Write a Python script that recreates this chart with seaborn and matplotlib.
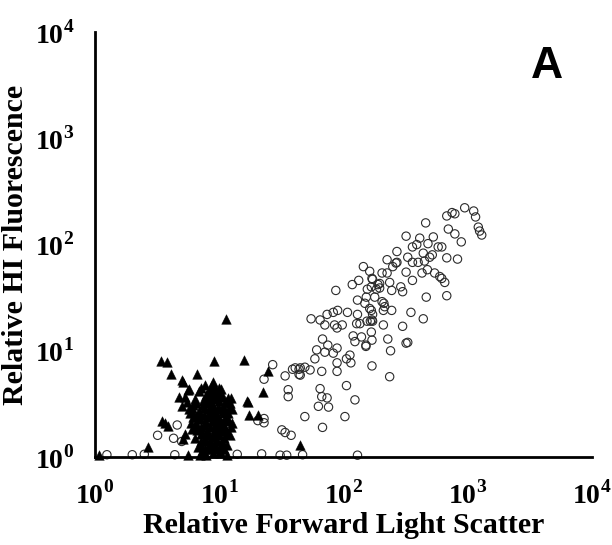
import seaborn as sns
import matplotlib.pyplot as plt
import pandas as pd

sns.set_style("white")
plt.rcParams['font.family'] = ['Liberation Serif', 'DejaVu Serif']
plt.rcParams['mathtext.fontset'] = 'custom'
plt.rcParams['mathtext.rm'] = 'Liberation Serif:bold'
plt.rcParams['mathtext.bf'] = 'Liberation Serif:bold'
plt.rcParams['text.color'] = 'black'
plt.rcParams['axes.labelcolor'] = 'black'

# open circles (forward scatter, HI fluorescence)
circle_x = [948, 1120, 1160, 680, 750, 790, 1220, 1250, 1300, 700, 790, 890, 460, 620, 680,
            830, 620, 655, 680, 320, 412, 530, 480, 580, 360, 390, 270, 440, 520, 330,
            225, 265, 400, 145, 250, 495, 450, 360, 270, 163, 205, 225, 320, 430, 475,
            360, 170, 196, 236, 133, 118, 156, 185, 245, 290, 300, 87, 153, 179, 130,
            149, 205, 215, 465, 350, 440, 597, 543, 168, 196, 168, 210, 245, 170, 210,
            300, 168, 170, 228, 330, 240, 170, 236, 172, 190, 320, 152, 165, 128, 212,
            55, 65, 71, 74, 83, 90, 108, 130, 163, 172, 155, 172, 136, 85, 98,
            89, 120, 140, 124, 152, 68, 75, 61, 71, 83, 89, 113, 106, 115, 59,
            89, 41, 45, 49, 54, 45, 34, 67, 89, 106, 36, 36, 65, 67, 74,
            63, 76, 124, 49, 103, 68, 32, 34, 38, 27, 23, 39, 44, 44, 23,
            20.5, 23, 3.2, 4.3, 5.0, 4.6,
            1.25, 2.0, 2.5, 4.4, 14, 22, 31, 35, 47, 130]
circle_y = [222, 207, 182, 186, 200, 195, 146, 134, 123, 140, 126, 106, 160, 95, 75,
            73, 48, 44, 33, 120, 115, 118, 102, 95, 95, 100, 86, 83, 80, 76,
            72, 67, 68, 62, 62, 76, 70, 68, 68, 56, 54, 54, 55, 54, 58,
            46, 48, 43, 44, 46, 42, 38, 38, 37, 40, 36, 37, 32, 32, 30,
            28, 29, 26, 32, 23, 20, 50, 54, 40, 39, 24, 24, 24, 19.5, 17.5,
            17, 15, 12.6, 12.9, 12, 10, 7.2, 5.7, 47, 42, 11.8, 11.3, 19, 18, 28,
            20, 19.5, 17.5, 22, 23, 24, 23, 22, 25, 22, 19, 19, 18, 17.5, 17.5,
            16.4, 13.8, 13.5, 12.2, 11, 12.9, 11.3, 10.2, 9.7, 9.5, 10.6, 9.1, 8.4, 7.7, 8.4,
            7.7, 6.9, 6.9, 7.0, 6.6, 5.9, 5.8, 6.4, 6.4, 4.7, 4.3, 3.7, 4.4, 3.7, 3.6,
            3.0, 2.95, 3.45, 2.4, 2.4, 1.9, 1.8, 1.7, 1.6, 7.4, 5.4, 6.7, 6.7, 6.0, 2.3,
            2.2, 2.1, 1.6, 1.5, 1.4, 2.0,
            1.05, 1.05, 1.06, 1.05, 1.06, 1.07, 1.04, 1.04, 1.05, 1.04]

# filled triangles
tri_x = [11.3, 3.4, 3.8, 4.1, 5.0, 5.7, 4.8, 6.7, 9.1, 15.8, 22.5, 16.7, 17.3, 20.5, 24.7,
         3.5, 3.9, 3.7, 5.3, 5.1, 11.7, 7.1, 2.7, 45, 7.7, 8.9, 9.2, 5.3, 6.4, 5.0,
         10.7, 12.4, 17, 5.6, 5.1,
         1.08, 5.6, 7.0, 7.9, 8.9, 10.1, 11.5,
         7.2, 8.1, 9.0, 10.2, 11.3, 6.5, 7.8, 8.6, 9.6, 10.8, 12.0, 6.9, 7.5, 8.3, 9.3,
         10.0, 11.0, 6.2, 7.0, 8.0, 8.8, 9.8, 10.6, 11.8, 6.7, 7.6, 8.4, 9.2, 10.3, 11.4,
         7.3, 8.2, 9.1, 9.9, 10.9, 6.4, 7.1, 7.9, 8.7, 9.5, 10.4, 11.6, 6.8, 7.7, 8.5,
         9.4, 10.1, 12.3, 7.4, 8.9, 9.7, 10.7, 6.6, 8.0, 9.0, 11.1, 7.0, 8.3, 9.6, 10.5,
         6.0, 7.6, 8.8, 10.0, 11.9, 7.2, 8.4, 9.3, 6.3, 12.6, 9.9, 8.1, 10.9, 7.5,
         5.8, 6.1, 6.5, 5.9, 6.2, 5.5, 5.7, 6.0, 6.4, 12.8, 12.2, 11.6, 12.5, 11.9,
         8.6, 9.4, 7.9, 10.4, 8.2, 9.0, 7.4, 10.8, 9.6, 8.5, 11.2, 7.8, 9.2, 10.3,
         8.0, 8.9, 9.8, 7.1, 10.6, 8.4, 9.5, 7.7, 11.0, 8.7, 6.9, 9.1, 10.0, 7.3]
tri_y = [20, 8.0, 7.9, 6.0, 5.3, 4.4, 3.7, 6.0, 8.0, 8.2, 4.1, 3.4, 2.5, 2.5, 6.4,
         2.2, 1.96, 2.1, 1.65, 1.48, 1.65, 1.3, 1.24, 1.3, 4.8, 5.1, 4.3, 3.7, 3.5, 3.0,
         3.7, 3.6, 3.3, 4.3, 5.1,
         1.05, 1.04, 1.05, 1.04, 1.08, 1.08, 1.05,
         4.5, 4.1, 4.4, 3.9, 3.3, 3.2, 3.6, 3.3, 3.5, 3.0, 2.9, 2.7, 2.9, 2.8, 2.6,
         2.9, 2.6, 2.4, 2.3, 2.4, 2.2, 2.4, 2.1, 2.3, 2.0, 2.0, 1.9, 2.0, 1.9, 1.8,
         1.7, 1.6, 1.7, 1.6, 1.5, 1.5, 1.4, 1.4, 1.3, 1.4, 1.3, 1.3, 1.25, 1.2, 1.2,
         1.2, 1.15, 1.6, 3.1, 3.0, 2.2, 2.0, 1.8, 1.8, 1.55, 2.3, 2.5, 2.5, 1.45, 1.75,
         2.7, 2.5, 2.75, 2.3, 2.6, 1.9, 1.35, 1.85, 1.9, 2.1, 3.4, 3.8, 1.95, 1.1,
         2.6, 2.9, 2.4, 2.1, 3.1, 3.3, 2.8, 1.85, 2.0, 2.8, 3.2, 2.2, 1.9, 3.6,
         3.9, 4.0, 3.8, 4.4, 3.2, 3.6, 3.4, 2.7, 2.8, 2.55, 2.3, 2.15, 2.25, 2.1,
         1.7, 1.55, 1.75, 1.65, 1.4, 1.3, 1.25, 1.5, 1.2, 4.8, 4.2, 4.7, 4.5, 1.15]

circles = pd.DataFrame({"fsc": circle_x, "hi": circle_y})
triangles = pd.DataFrame({"fsc": tri_x, "hi": tri_y})

fig = plt.figure(figsize=(6.12, 5.45), dpi=100)
ax = fig.add_axes([0.155, 0.1615, 0.812, 0.7795])

sns.scatterplot(data=circles, x="fsc", y="hi", marker="o", s=36, facecolor="none",
                edgecolor="#2b2b2b", linewidth=0.8, ax=ax, clip_on=False)
sns.scatterplot(data=triangles, x="fsc", y="hi", marker="^", s=48, color="black",
                edgecolor="black", linewidth=0.3, ax=ax, clip_on=False)

ax.set_xscale("log")
ax.set_yscale("log")
ax.set_xlim(1, 1e4)
ax.set_ylim(1, 1e4)

decades = [1, 10, 100, 1000, 10000]
labels = [r"$10^{%d}$" % i for i in range(5)]
ax.set_xticks(decades)
ax.set_xticklabels(labels)
ax.set_yticks(decades)
ax.set_yticklabels(labels)
ax.minorticks_off()
ax.tick_params(axis="both", which="major", length=11, width=1, direction="out",
               labelsize=20, pad=4, colors="black")
ax.tick_params(axis="x", pad=6)

for side in ["top", "right"]:
    ax.spines[side].set_visible(False)
for side in ["left", "bottom"]:
    ax.spines[side].set_linewidth(2)
    ax.spines[side].set_color("black")

ax.set_xlabel("Relative Forward Light Scatter", fontsize=21.5, fontweight="bold",
              labelpad=2, color="black")
ax.set_ylabel("Relative HI Fluorescence", fontsize=21.5, fontweight="bold",
              labelpad=4, color="black")

ax.text(0.91, 0.92, "A", transform=ax.transAxes, fontsize=32, fontweight="bold",
        family="Liberation Sans", ha="center", va="center", color="black")

fig.savefig("out.png", dpi=100)
